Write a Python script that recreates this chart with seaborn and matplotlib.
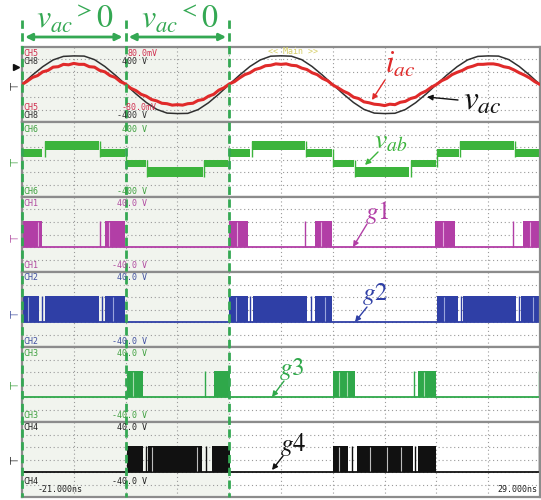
import numpy as np
import matplotlib.pyplot as plt
import seaborn as sns

sns.set_style('white')
plt.rcParams['font.family'] = ['DejaVu Sans']
plt.rcParams['mathtext.fontset'] = 'stix'

# scope time window (5 units / div)
t_start, t_end = -21.0, 29.0
half_bounds = [-21, -11, -1]

# CH8: grid voltage v_ac (V), one sample per unit
t_vac = list(range(-21, 30))
vac = [0, 100, 190, 262, 300, 305, 303, 265, 192, 100,
       0, -100, -192, -265, -305, -310, -308, -268, -195, -102,
       0, 100, 192, 262, 302, 306, 302, 265, 192, 100,
       0, -100, -192, -265, -305, -310, -307, -267, -194, -102,
       0, 100, 190, 262, 300, 305, 303, 265, 192, 100, 0]

# CH5: grid current i_ac (mV on probe), two samples per unit
t_iac = list(np.arange(-21, 29.5, 0.5))
iac = [0, 7, 15, 19, 27, 30, 37, 38, 43, 42, 45, 43, 43, 38, 37, 30, 27, 19, 15, 6,
       1, -8, -13, -21, -25, -32, -35, -40, -41, -44, -43, -44, -41, -40, -34, -32, -25, -21, -12, -7,
       1, 6, 14, 21, 25, 32, 35, 40, 41, 44, 43, 44, 41, 40, 35, 32, 25, 21, 13, 8,
       -1, -7, -14, -19, -27, -30, -37, -39, -42, -43, -45, -42, -43, -38, -36, -30, -27, -19, -14, -6,
       0, 8, 13, 21, 26, 30, 36, 39, 43, 43, 44, 44, 42, 38, 36, 31, 25, 20, 14, 6, 0]

# CH6: inverter output v_ab, switching band per level segment (V)
vab_start = [-21.0, -18.8, -13.5, -11.0, -8.9, -3.4, -1.0, 1.2, 6.4, 9.0, 11.1, 16.5, 19.1, 21.3, 26.6]
vab_end = [-19.1, -13.6, -11.1, -9.0, -3.5, -1.1, 1.0, 6.3, 8.9, 11.0, 16.4, 19.0, 21.2, 26.5, 29.0]
vab_lo = [25, 105, 25, -85, -190, -85, 25, 105, 25, -85, -190, -85, 25, 105, 25]
vab_hi = [112, 200, 112, 0, -83, 0, 112, 200, 112, 0, -83, 0, 112, 200, 112]

# CH1..CH4: gate signals (V), switching blocks, single pulses, light PWM stripes
gate_high, gate_low = 14, -13
g1_on = [(-21.0, -19.1), (-13.0, -11.1), (-1.0, 0.8), (7.3, 8.9), (18.9, 20.8), (27.4, 29.0)]
g1_spikes = [-13.5, 6.3, 26.4]
g1_stripes = [-19.5, -12.6, -0.2, 7.9, 19.6, 28.0]
g2_on = [(-21.0, -19.4), (-18.8, -13.6), (-13.0, -11.1), (-1.0, 0.8), (1.3, 6.5), (7.3, 8.9),
         (19.1, 21.1), (21.6, 26.7), (27.2, 29.0)]
g2_spikes = [-19.1, -13.3, 1.05, 6.9, 21.35, 26.95]
g2_stripes = [-20.4, -12.2, -0.3, 8.2, 19.7, 28.3]
g3_on = [(-10.9, -9.3), (-2.5, -0.9), (9.0, 11.1), (17.2, 19.0)]
g3_spikes = [-3.3, 16.8, 28.9]
g3_stripes = [-10.3, 9.6, 10.4, 17.8]
g4_on = [(-10.9, -9.3), (-8.8, -3.6), (-2.7, -0.9), (9.0, 10.5), (11.3, 16.7), (17.2, 19.0)]
g4_spikes = [-9.05, -3.2, 10.9, 16.95, 28.9]
g4_stripes = [-8.5, -4.1, 9.6, 12.6, 14.2, 15.6]

red = '#e02a2a'
green = '#3cb43c'
dash_green = '#34a853'
magenta = '#b23ea6'
blue = '#2f3fa6'
g3_green = '#2fa84a'
grid_c = '#9a9a9a'

W, H = 541, 500
fig = plt.figure(figsize=(W / 100, H / 100), dpi=100)


def px_t(x):
    return t_start + (x - 22) * (t_end - t_start) / 518


def panel(top, ylim):
    ax = fig.add_axes([22 / W, 1 - (top + 75) / H, 518 / W, 75 / H])
    ax.set_xlim(t_start, t_end)
    ax.set_ylim(-ylim, ylim)
    ax.axvspan(half_bounds[0], half_bounds[-1], color='#f1f4ee', zorder=0, lw=0)
    ax.set_xticks(np.arange(-16, 29, 5))
    ax.set_yticks(np.linspace(-ylim, ylim, 7)[1:-1])
    ax.grid(True, ls=(0, (1, 2.5)), color=grid_c, lw=0.8)
    ax.tick_params(length=0, labelbottom=False, labelleft=False)
    for s in ax.spines.values():
        s.set_color('#8c8c8c')
        s.set_linewidth(1.6)
    return ax


tops = [47, 122, 197, 272, 347, 422]

# panel 1: v_ac and i_ac
ax1 = panel(tops[0], 400)
sns.lineplot(x=t_vac, y=vac, ax=ax1, color='#303030', linewidth=1.1, estimator=None)
ax1b = ax1.twinx()
ax1b.set_ylim(-80, 80)
sns.lineplot(x=t_iac, y=iac, ax=ax1b, color=red, linewidth=2.2, estimator=None)
ax1b.set_yticks([])
ax1b.set_ylabel('')
for s in ax1b.spines.values():
    s.set_visible(False)

# panel 2: v_ab
ax2 = panel(tops[1], 400)
for a, b, lo, hi in zip(vab_start, vab_end, vab_lo, vab_hi):
    ax2.fill_between([a, b], lo, hi, color=green, lw=0)
for i in range(1, len(vab_start)):
    ax2.vlines(vab_start[i], min(vab_lo[i - 1], vab_lo[i]), max(vab_hi[i - 1], vab_hi[i]),
               color=green, lw=1)


def gate_panel(top, on, spikes, stripes, color, stripe_color):
    ax = panel(top, 40)
    sns.lineplot(x=[t_start, t_end], y=[gate_low, gate_low], ax=ax, color=color, linewidth=1.3)
    for a, b in on:
        ax.fill_between([a, b], gate_low, gate_high, color=color, lw=0)
    ax.vlines(spikes, gate_low, gate_high, color=color, lw=1)
    ax.vlines(stripes, gate_low + 1, gate_high - 1, color=stripe_color, lw=0.8)
    return ax


gate_panel(tops[2], g1_on, g1_spikes, g1_stripes, magenta, '#e3a6dc')
gate_panel(tops[3], g2_on, g2_spikes, g2_stripes, blue, '#9aa4dc')
gate_panel(tops[4], g3_on, g3_spikes, g3_stripes, g3_green, '#a6dcae')
gate_panel(tops[5], g4_on, g4_spikes, g4_stripes, '#111111', '#bdbdbd')

# overlay: x in scope time, y in pixels from the top
ov = fig.add_axes([22 / W, 0, 518 / W, 1])
ov.set_xlim(t_start, t_end)
ov.set_ylim(H, 0)
ov.axis('off')

for b in half_bounds:
    ov.plot([b, b], [20, 497], ls=(0, (3, 1.6)), color=dash_green, lw=2, clip_on=False)
for a, b in zip(half_bounds[:-1], half_bounds[1:]):
    ov.annotate('', xy=(b - 0.3, 37), xytext=(a + 0.3, 37),
                arrowprops=dict(arrowstyle='<|-|>', color=dash_green, lw=2, mutation_scale=10,
                                shrinkA=0, shrinkB=0))
ov.text(px_t(75), 19, r'$v_{ac}{}^{>}0$', color=dash_green, fontsize=23, ha='center', va='center')
ov.text(px_t(180), 19, r'$v_{ac}{}^{<}0$', color=dash_green, fontsize=23, ha='center', va='center')

# scope channel readouts
mono = 'DejaVu Sans Mono'
readouts = [
    ('CH5', 23, 53, 'left', '#d03050'), ('80.0mV', 157, 53, 'right', '#d03050'),
    ('CH8', 23, 62, 'left', '#303030'), ('400 V', 147, 62, 'right', '#303030'),
    ('CH5', 23, 107, 'left', '#d03050'), ('-80.0mV', 157, 107, 'right', '#d03050'),
    ('CH8', 23, 116, 'left', '#303030'), ('-400 V', 147, 116, 'right', '#303030'),
    ('<< Main >>', 268, 52, 'left', '#d6cf6a'),
    ('CH6', 23, 129, 'left', '#3fa040'), ('400 V', 147, 129, 'right', '#3fa040'),
    ('CH6', 23, 191, 'left', '#3fa040'), ('-400 V', 147, 191, 'right', '#3fa040'),
    ('CH1', 23, 203, 'left', '#b04aa0'), ('40.0 V', 147, 203, 'right', '#b04aa0'),
    ('CH1', 23, 266, 'left', '#b04aa0'), ('-40.0 V', 147, 266, 'right', '#b04aa0'),
    ('CH2', 23, 278, 'left', '#4050a0'), ('40.0 V', 147, 278, 'right', '#4050a0'),
    ('CH2', 23, 341, 'left', '#4050a0'), ('-40.0 V', 147, 341, 'right', '#4050a0'),
    ('CH3', 23, 353, 'left', '#3fa040'), ('40.0 V', 147, 353, 'right', '#3fa040'),
    ('CH3', 23, 416, 'left', '#3fa040'), ('-40.0 V', 147, 416, 'right', '#3fa040'),
    ('CH4', 23, 428, 'left', '#202020'), ('40.0 V', 147, 428, 'right', '#202020'),
    ('CH4', 23, 481, 'left', '#202020'), ('-40.0 V', 147, 481, 'right', '#202020'),
    ('-21.000ns', 38, 490, 'left', '#202020'), ('29.000ns', 537, 490, 'right', '#202020'),
]
for txt, x, y, ha, c in readouts:
    ov.text(px_t(x), y, txt, family=mono, fontsize=6, color=c, ha=ha, va='center')

# ground markers on the left edge
grounds = [(86, '#303030'), (162, '#3fa040'), (238, '#b04aa0'), (314, '#4050a0'),
           (385, '#3fa040'), (460, '#202020')]
for y, c in grounds:
    ov.text(px_t(11), y, '\u22a5', rotation=270, fontsize=8, color=c, ha='center', va='center')
ov.plot(px_t(16), 67, marker='>', ms=5, color='#111111', clip_on=False)

# trace labels
arrow = dict(arrowstyle='-|>', lw=1, mutation_scale=8, shrinkA=0, shrinkB=0)
labels = [
    (r'$i_{ac}$', (400, 64), (385, 80), (372, 100), red, 22),
    (r'$v_{ac}$', (482, 100), (458, 100), (427, 97), '#111111', 24),
    (r'$v_{ab}$', (391, 140), (378, 152), (365, 165), green, 20),
    (r'$g1$', (377, 212), (367, 224), (353, 247), magenta, 18),
    (r'$g2$', (375, 294), (367, 307), (355, 322), blue, 18),
    (r'$g3$', (292, 369), (284, 381), (272, 397), g3_green, 18),
    (r'$g4$', (293, 444), (283, 456), (272, 470), '#111111', 18),
]
for txt, (tx, ty), (ax_, ay_), (hx, hy), c, fs in labels:
    ov.text(px_t(tx), ty, txt, color=c, fontsize=fs, ha='center', va='center')
    ov.annotate('', xy=(px_t(hx), hy), xytext=(px_t(ax_), ay_),
                arrowprops=dict(arrow, color=c))

fig.savefig('out.png', dpi=100)
